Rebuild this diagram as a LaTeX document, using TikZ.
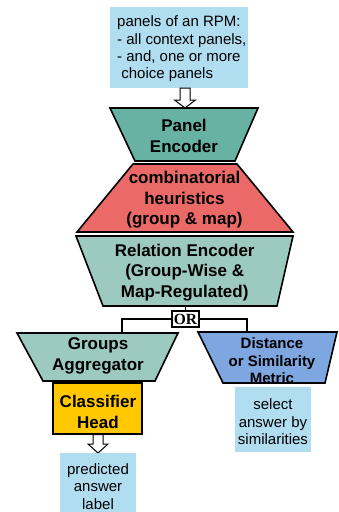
\documentclass[tikz,border=0pt]{standalone}
\usepackage{fontspec}
\setmainfont{Liberation Sans}
\newfontfamily\orfont{Liberation Serif}
\definecolor{infoblue}{RGB}{176,221,240}
\definecolor{pencol}{RGB}{104,178,164}
\definecolor{combcol}{RGB}{235,106,103}
\definecolor{relcol}{RGB}{156,201,192}
\definecolor{distcol}{RGB}{126,166,224}
\definecolor{clscol}{RGB}{255,200,0}
\begin{document}
\begin{tikzpicture}[x=1pt,y=-1pt,
  border/.style={draw=black,line width=1.6pt,line join=miter},
  btext/.style={align=center,inner sep=0pt,font=\bfseries\fontsize{17}{20.5}\selectfont},
  bstext/.style={align=center,inner sep=0pt,font=\bfseries\fontsize{15}{17.5}\selectfont},
  rtext/.style={align=center,inner sep=0pt,font=\fontsize{15}{17.5}\selectfont},
  infobox/.style={fill=infoblue,inner sep=0pt,draw=none},
  hollow/.style={draw=black,fill=white,line width=1pt,line join=miter},
  link/.style={draw=black,line width=1.6pt}
]
\useasboundingbox (0,0) rectangle (338,512);

% input box
\node[infobox,minimum width=138pt,minimum height=81pt] (inp) at (179,47.5) {};
\node[anchor=west,align=left,inner sep=0pt,font=\fontsize{15}{17.4}\selectfont] (inptxt) at (117,49)
  {panels of an RPM:\\- all context panels,\\- and, one or more\\\ choice panels};

% Panel Encoder
\path[border,fill=pencol] (110,108) -- (258,108) -- (235,161) -- (135,161) -- cycle;
\node[btext] (penc) at (184,136) {Panel\\Encoder};

% hollow arrow top
\path[hollow] (180,88) -- (190,88) -- (190,100) -- (195.5,100) -- (185,108) -- (174.5,100) -- (180,100) -- cycle;

% combinatorial heuristics
\path[border,fill=combcol] (133,164) -- (237,164) -- (293,232) -- (77,232) -- cycle;
\node[btext] (comb) at (184.5,200) {combinatorial\\heuristics\\(group \& map)};

% relation encoder
\path[border,fill=relcol] (76,236) -- (293,236) -- (277,306) -- (103,306) -- cycle;
\node[btext] (rel) at (184.7,272.5) {Relation Encoder\\(Group-Wise \&\\Map-Regulated)};
\coordinate (relB) at (185.5,306);

% OR
\node[draw=black,fill=white,line width=1.2pt,minimum width=27pt,minimum height=16pt,inner sep=0pt,
  font=\orfont\bfseries\fontsize{15.5}{16}\selectfont] (or) at (185.5,319) {OR};
\coordinate (grpT) at (122,333);
\coordinate (disT) at (247,332);
\draw[link] (relB) -- (or.north);
\draw[link] (or.west) -| (grpT);
\draw[link] (or.east) -| (disT);

% groups aggregator
\path[border,fill=relcol] (17,333) -- (178,333) -- (155,381) -- (43,381) -- cycle;
\node[btext] (grp) at (98,356) {Groups\\Aggregator};

% distance metric
\path[border,fill=distcol] (198,332) -- (337,332) -- (325,383) -- (223,383) -- cycle;
\node[bstext] (dist) at (272,361) {Distance\\or Similarity\\Metric};

% classifier head
\node[draw=black,line width=1.6pt,fill=clscol,minimum width=89pt,minimum height=51pt,inner sep=0pt] (cls) at (97.5,408.5) {};
\node[btext] (clstxt) at (98,412) {Classifier\\Head};

% hollow arrow bottom
\path[hollow] (93,434.5) -- (103,434.5) -- (103,444) -- (108,444) -- (98,453) -- (88,444) -- (93,444) -- cycle;

% predicted answer label
\node[infobox,minimum width=76pt,minimum height=59pt] (pred) at (98,482.5) {};
\node[rtext] (predtxt) at (98,486.5) {predicted\\answer\\label};

% select answer
\node[infobox,minimum width=76pt,minimum height=65pt] (sel) at (273,419.5) {};
\node[rtext] (seltxt) at (273,422) {select\\answer by\\similarities};
\end{tikzpicture}
\end{document}
